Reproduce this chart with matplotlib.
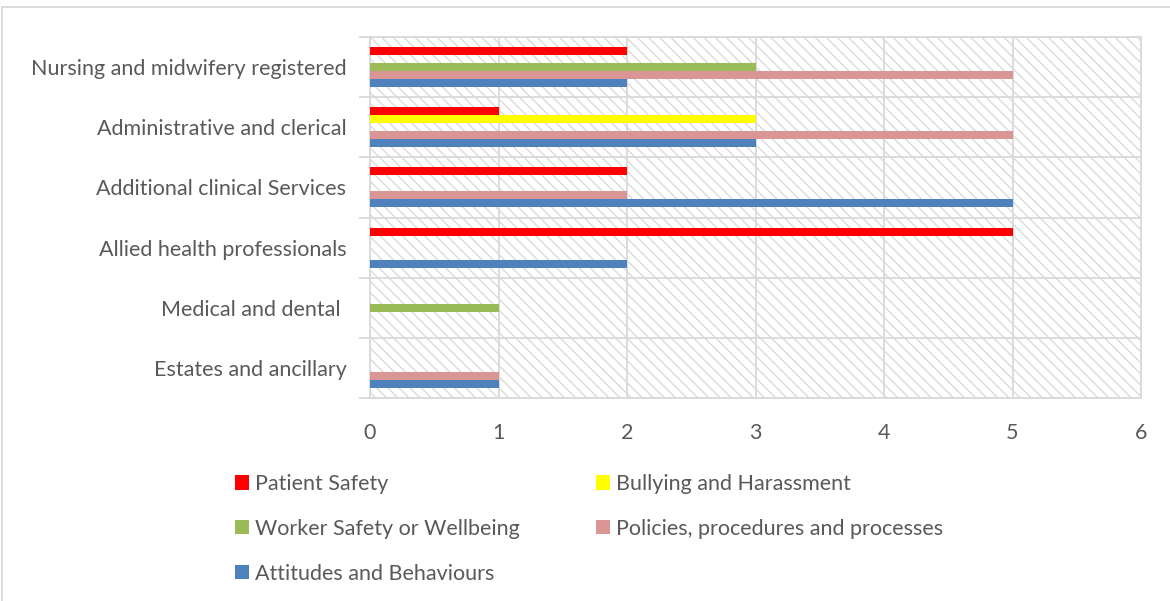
import numpy as np
import matplotlib.pyplot as plt
from matplotlib.patches import Rectangle, Patch

categories = ['Nursing and midwifery registered', 'Administrative and clerical',
              'Additional clinical Services', 'Allied health professionals',
              'Medical and dental ', 'Estates and ancillary']

patient_safety = [2, 1, 2, 5, 0, 0]
bullying = [0, 3, 0, 0, 0, 0]
worker_safety = [3, 0, 0, 0, 1, 0]
policies = [5, 5, 2, 0, 0, 1]
attitudes = [2, 3, 5, 2, 0, 1]

series_names = ['Patient Safety', 'Bullying and Harassment', 'Worker Safety or Wellbeing',
                'Policies, procedures and processes', 'Attitudes and Behaviours']
colors = ['#FF0000', '#FFFF00', '#9BBB59', '#D99694', '#4F81BD']

plt.rcParams['font.family'] = ['Lato', 'DejaVu Sans']
plt.rcParams['hatch.linewidth'] = 1.0
text_col = '#595959'
grid_col = '#d9d9d9'
fs = 15.5

fig = plt.figure(figsize=(11.7, 6.01), dpi=100)
ax = fig.add_axes([370 / 1170, 1 - 398 / 601, 771 / 1170, 361 / 601])

# hatched plot background
ax.add_patch(Rectangle((0, 0), 1, 1, transform=ax.transAxes, facecolor='white',
                       edgecolor='#dadada', hatch='\\\\\\', linewidth=0, zorder=0))

y = np.arange(len(categories))
h = 0.1333
all_series = [patient_safety, bullying, worker_safety, policies, attitudes]
for k, (vals, c) in enumerate(zip(all_series, colors)):
    ax.barh(y + (k - 2) * h, vals, height=h, color=c, zorder=3, label=series_names[k])

ax.set_xlim(0, 6)
ax.set_ylim(len(categories) - 0.5, -0.5)
ax.set_xticks(range(7))
ax.set_yticks(y)
ax.set_yticklabels(categories)
ax.set_yticks(np.arange(-0.5, len(categories)), minor=True)

ax.tick_params(axis='x', length=0, pad=18, labelsize=fs, labelcolor=text_col)
ax.tick_params(axis='y', which='major', length=0, pad=17, labelsize=fs, labelcolor=text_col)
ax.tick_params(axis='y', which='minor', length=8, width=1.3, color=grid_col)

ax.grid(axis='x', color=grid_col, linewidth=1.3, zorder=1)
ax.grid(axis='y', which='minor', color=grid_col, linewidth=1.3, zorder=1)
ax.set_axisbelow(True)
for s in ax.spines.values():
    s.set_color(grid_col)
    s.set_linewidth(1.3)

order = [0, 2, 4, 1, 3]
handles = [Patch(facecolor=colors[i], edgecolor='none') for i in order]
labels = [series_names[i] for i in order]
fig.legend(handles, labels, ncol=2, loc='upper left', bbox_to_anchor=(235 / 1170, 1 - 474 / 601),
           frameon=False, fontsize=fs, labelcolor=text_col, handlelength=0.65, handleheight=0.65,
           handletextpad=0.3, columnspacing=3.5, labelspacing=1.15, borderpad=0, borderaxespad=0)

# outer chart border
fig.patches.append(Rectangle((2 / 1170, -0.1), 1.2, 1 - 7 / 601 + 0.1, transform=fig.transFigure,
                             fill=False, edgecolor=grid_col, linewidth=1.3))

fig.savefig('out.png', dpi=100)
